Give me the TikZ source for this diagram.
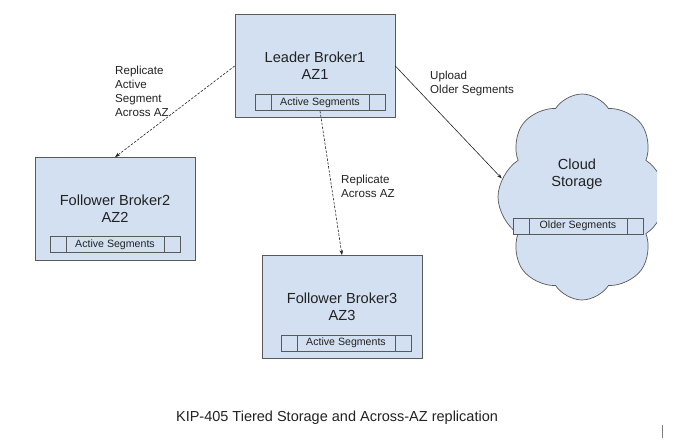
\documentclass[tikz,border=0pt]{standalone}
\usepackage{fontspec}
\setmainfont{Liberation Sans}
\usetikzlibrary{positioning,shapes.symbols,arrows.meta}
\definecolor{boxfill}{HTML}{D3E0F1}
\definecolor{boxline}{HTML}{595959}
\definecolor{inkgray}{HTML}{222222}

\begin{document}
\begin{tikzpicture}
[
    x=1pt, y=1pt,
    broker/.style={draw=boxline, fill=boxfill, line width=0.7pt, minimum width=160pt, minimum height=103pt,
        align=center, text=inkgray, font=\fontsize{14.6}{17}\selectfont},
    segmid/.style={draw=boxline, fill=boxfill, line width=0.7pt, outer sep=0pt, inner sep=0pt,
        minimum width=98pt, minimum height=16pt, text=inkgray, font=\fontsize{10.6}{12}\selectfont},
    segend/.style={draw=boxline, fill=boxfill, line width=0.7pt, outer sep=0pt, inner sep=0pt,
        minimum width=16pt, minimum height=16pt},
    note/.style={align=left, anchor=west, inner sep=0pt, text=inkgray, font=\fontsize{11.6}{14}\selectfont},
    link/.style={draw=inkgray, line width=0.6pt, -{Stealth[length=5pt,width=3.5pt]}},
    dashlink/.style={link, dash pattern=on 2.5pt off 1.5pt}
]
    \useasboundingbox (0,0) rectangle (687,439);

    % cloud, cut at the right edge
    \begin{scope}
        \clip (0,0) rectangle (657,439);
        \node [cloud, draw=boxline, fill=boxfill, line width=0.7pt, cloud puffs=8, cloud puff arc=115,
            cloud ignores aspect, minimum width=168pt, minimum height=206pt] (cloud) at (582,242) {};
    \end{scope}
    \node [align=center, text=inkgray, font=\fontsize{14.6}{17}\selectfont] (cloudtext) at (577,265) {Cloud\\Storage};
    \node [segmid] (cloudseg) at (578,213) {Older Segments};
    \node [segend, left=0pt of cloudseg] (cloudsegl) {};
    \node [segend, right=0pt of cloudseg] (cloudsegr) {};

    % brokers
    \node [broker] (leader) at (315,373) {Leader Broker1\\AZ1};
    \node [segmid, above=7pt of leader.south, xshift=5pt] (leaderseg) {Active Segments};
    \node [segend, left=0pt of leaderseg] (leadersegl) {};
    \node [segend, right=0pt of leaderseg] (leadersegr) {};

    \node [broker] (follower2) at (115,230) {Follower Broker2\\AZ2};
    \node [segmid, above=8pt of follower2.south] (follower2seg) {Active Segments};
    \node [segend, left=0pt of follower2seg] (follower2segl) {};
    \node [segend, right=0pt of follower2seg] (follower2segr) {};

    \node [broker] (follower3) at (342,132) {Follower Broker3\\AZ3};
    \node [segmid, above=8pt of follower3.south, xshift=4pt] (follower3seg) {Active Segments};
    \node [segend, left=0pt of follower3seg] (follower3segl) {};
    \node [segend, right=0pt of follower3seg] (follower3segr) {};

    % connectors
    \draw [dashlink] (leader.west) -- (follower2.north);
    \draw [dashlink] (leaderseg.south) -- (follower3.north);
    \draw [link] (leader.east) -- (cloud.167);

    % labels
    \node [note] (note2) at (115,348) {Replicate\\Active\\Segment\\Across AZ};
    \node [note] (note3) at (341,253) {Replicate\\Across AZ};
    \node [note] (noteup) at (430,355) {Upload\\Older Segments};

    \node [text=inkgray, font=\fontsize{14.5}{17}\selectfont] (title) at (337,21)
        {KIP-405 Tiered Storage and Across-AZ replication};
    \draw [gray, line width=1pt] (662,1) -- (662,14);
\end{tikzpicture}
\end{document}
